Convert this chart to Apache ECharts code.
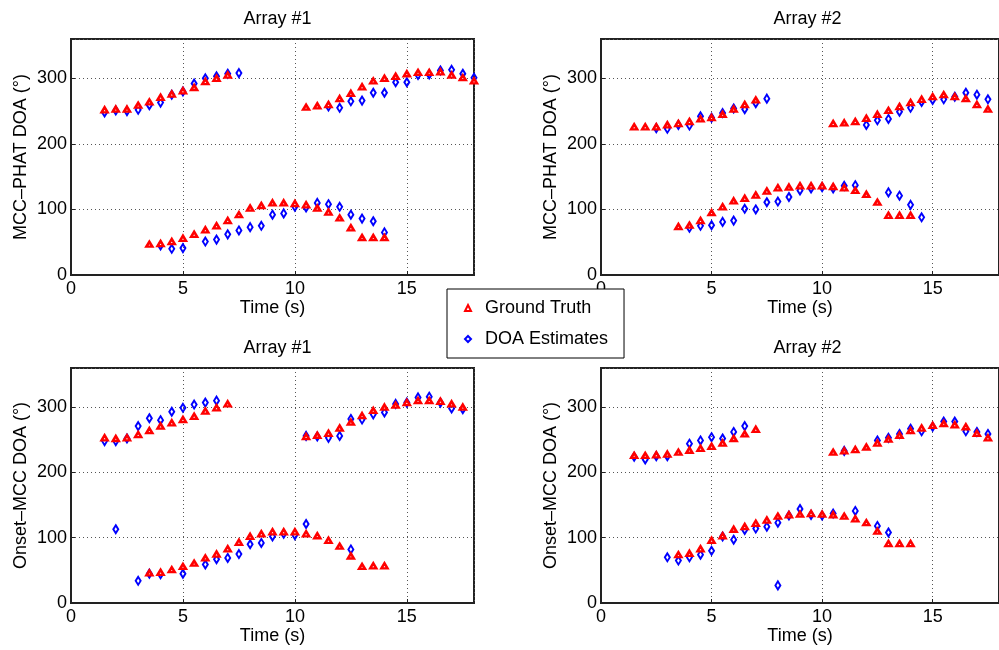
<!DOCTYPE html>
<html>
<head>
<meta charset="utf-8">
<script src="https://cdn.jsdelivr.net/npm/echarts@6/dist/echarts.min.js"></script>
<style>
  html, body { margin: 0; padding: 0; background: #fff; }
  #chart { width: 999px; height: 650px; }
</style>
</head>
<body>
<div id="chart"></div>
<script>
// DOA tracks over time, pairs of [time (s), DOA (deg)]

// MCC-PHAT, Array #1
const phatA1Truth = [
  [1.5,252],[2,253],[2.5,253],[3,259],[3.5,264],[4,271],[4.5,276],[5,281],[5.5,286],[6,295],[6.5,300],[7,305],
  [3.5,47],[4,48],[4.5,51],[5,56],[5.5,62],[6,69],[6.5,75],[7,83],[7.5,92],[8,102],[8.5,106],[9,110],[9.5,110],
  [10,109],[10.5,107],[11,102],[11.5,96],[12,87],[12.5,72],[13,57],[13.5,57],[14,57],
  [10.5,256],[11,258],[11.5,260],[12,269],[12.5,277],[13,287],[13.5,296],[14,300],[14.5,303],[15,307],
  [15.5,309],[16,309],[16.5,310],[17,305],[17.5,301],[18,296]
];
const phatA1Est = [
  [1.5,248],[2,251],[2.5,250],[3,252],[3.5,259],[4,263],[4.5,275],[5,280],[5.5,292],[6,300],[6.5,303],[7,307],[7.5,308],
  [4,45],[4.5,40],[5,41],[6,51],[6.5,54],[7,62],[7.5,68],[8,73],[8.5,75],[9,92],[9.5,94],[10,104],[10.5,103],
  [11,110],[11.5,108],[12,104],[12.5,92],[13,86],[13.5,82],[14,65],
  [11.5,257],[12,255],[12.5,265],[13,266],[13.5,278],[14,278],[14.5,294],[15,294],[15.5,305],[16,306],
  [16.5,312],[17,313],[17.5,307],[18,301]
];

// MCC-PHAT, Array #2
const phatA2Truth = [
  [1.5,226],[2,226],[2.5,226],[3,229],[3.5,231],[4,234],[4.5,238],[5,240],[5.5,245],[6,253],[6.5,260],[7,267],
  [3.5,74],[4,76],[4.5,83],[5,95],[5.5,104],[6,113],[6.5,117],[7,122],[7.5,128],[8,133],[8.5,134],[9,136],[9.5,136],
  [10,136],[10.5,135],[11,133],[11.5,129],[12,123],[12.5,111],[13,91],[13.5,91],[14,91],
  [10.5,231],[11,232],[11.5,234],[12,239],[12.5,245],[13,251],[13.5,257],[14,263],[14.5,268],[15,272],
  [15.5,275],[16,272],[16.5,269],[17,260],[17.5,253]
];
const phatA2Est = [
  [2.5,224],[3,223],[3.5,229],[4,228],[4.5,242],[5,240],[5.5,247],[6,254],[6.5,253],[7,262],[7.5,269],
  [4,72],[4.5,75],[5,76],[5.5,81],[6,83],[6.5,101],[7,100],[7.5,111],[8,112],[8.5,119],[9,129],[9.5,132],
  [10,134],[10.5,132],[11,136],[11.5,137],[13,126],[13.5,121],[14,107],[14.5,88],
  [12,229],[12.5,236],[13,238],[13.5,249],[14,255],[14.5,264],[15,267],[15.5,268],[16,272],[16.5,278],
  [17,275],[17.5,268]
];

// Onset-MCC, Array #1
const onsetA1Truth = [
  [1.5,253],[2,252],[2.5,253],[3,258],[3.5,264],[4,271],[4.5,276],[5,281],[5.5,286],[6,294],[6.5,299],[7,305],
  [3.5,46],[4,47],[4.5,51],[5,56],[5.5,61],[6,69],[6.5,75],[7,83],[7.5,93],[8,102],[8.5,106],[9,109],[9.5,109],
  [10,109],[10.5,106],[11,103],[11.5,96],[12,87],[12.5,72],[13,56],[13.5,57],[14,57],
  [10.5,255],[11,257],[11.5,260],[12,268],[12.5,277],[13,287],[13.5,295],[14,300],[14.5,303],[15,307],
  [15.5,310],[16,310],[16.5,309],[17,305],[17.5,300]
];
const onsetA1Est = [
  [1.5,248],[2,248],[2.5,252],[3,271],[3.5,283],[4,280],[4.5,293],[5,299],[5.5,304],[6,307],[6.5,310],
  [2,113],
  [3,34],[3.5,45],[4,44],[5,45],[6,59],[6.5,67],[7,69],[7.5,75],[8,90],[8.5,92],[9,102],[9.5,106],[10,104],
  [10.5,121],[12.5,82],
  [10.5,256],[11,255],[11.5,253],[12,256],[12.5,282],[13,281],[13.5,289],[14,292],[14.5,305],[15,307],
  [15.5,315],[16,316],[16.5,307],[17,298],[17.5,297]
];

// Onset-MCC, Array #2
const onsetA2Truth = [
  [1.5,226],[2,226],[2.5,227],[3,228],[3.5,231],[4,234],[4.5,237],[5,240],[5.5,245],[6,252],[6.5,259],[7,266],
  [3.5,74],[4,76],[4.5,83],[5,96],[5.5,103],[6,113],[6.5,117],[7,122],[7.5,127],[8,133],[8.5,135],[9,136],[9.5,137],
  [10,136],[10.5,135],[11,133],[11.5,129],[12,123],[12.5,110],[13,91],[13.5,91],[14,91],
  [10.5,231],[11,233],[11.5,235],[12,239],[12.5,245],[13,251],[13.5,257],[14,264],[14.5,268],[15,272],
  [15.5,275],[16,273],[16.5,270],[17,260],[17.5,253]
];
const onsetA2Est = [
  [1.5,224],[2,220],[2.5,225],[3,225],[4,244],[4.5,249],[5,254],[5.5,252],[6,262],[6.5,271],
  [3,70],[3.5,65],[4,70],[4.5,74],[5,80],[5.5,102],[6,97],[6.5,112],[7,114],[7.5,117],[8,123],[8.5,134],
  [9,144],[9.5,135],[10,134],[10.5,137],[11.5,141],[12.5,118],[13,108],
  [8,27],
  [11,233],[12.5,249],[13,253],[13.5,259],[14,267],[14.5,263],[15,270],[15.5,278],[16,278],[16.5,263],
  [17,262],[17.5,259]
];

const panelTitles = ['Array #1', 'Array #2', 'Array #1', 'Array #2'];
const yAxisNames = ['MCC\u2013PHAT DOA (\u00b0)', 'MCC\u2013PHAT DOA (\u00b0)', 'Onset\u2013MCC DOA (\u00b0)', 'Onset\u2013MCC DOA (\u00b0)'];
const xAxisName = 'Time (s)';
const truthName = 'Ground Truth';
const estName = 'DOA Estimates';
const panelData = [
  [phatA1Truth, phatA1Est],
  [phatA2Truth, phatA2Est],
  [onsetA1Truth, onsetA1Est],
  [onsetA2Truth, onsetA2Est]
];

const FONT = 'Liberation Sans, Arial, Helvetica, sans-serif';
const grids = [
  { left: 71, top: 39, width: 403, height: 236 },
  { left: 601, top: 39, width: 403, height: 236 },
  { left: 71, top: 368, width: 403, height: 235 },
  { left: 601, top: 368, width: 403, height: 235 }
];

const chart = echarts.init(document.getElementById('chart'), null, { renderer: 'canvas' });

const gridOpts = grids.map(g => Object.assign({
  show: true, borderColor: '#222', borderWidth: 2, backgroundColor: '#fff', containLabel: false
}, g));

const dotted = { show: true, lineStyle: { color: '#555', type: [1, 3], width: 1 } };

const xAxes = grids.map((g, i) => ({
  type: 'value', gridIndex: i, min: 0, max: 18, interval: 5,
  name: xAxisName, nameLocation: 'middle', nameGap: 22,
  nameTextStyle: { fontFamily: FONT, fontSize: 18, color: '#000' },
  axisLine: { show: true, lineStyle: { color: '#222', width: 2 } },
  axisTick: { show: true, inside: true, length: 4, lineStyle: { color: '#222' } },
  axisLabel: { fontFamily: FONT, fontSize: 18, color: '#000', margin: 5, showMaxLabel: false },
  splitLine: dotted
}));

const yAxes = grids.map((g, i) => ({
  type: 'value', gridIndex: i, min: 0, max: 360, interval: 100,
  name: yAxisNames[i], nameLocation: 'middle', nameGap: 41, nameRotate: 90,
  nameTextStyle: { fontFamily: FONT, fontSize: 18, color: '#000' },
  axisLine: { show: true, lineStyle: { color: '#222', width: 2 } },
  axisTick: { show: true, inside: true, length: 4, lineStyle: { color: '#222' } },
  axisLabel: { fontFamily: FONT, fontSize: 18, color: '#000', margin: 4, showMaxLabel: false },
  splitLine: dotted
}));

const titles = grids.map((g, i) => ({
  text: panelTitles[i],
  left: g.left + g.width / 2, top: g.top - 34, textAlign: 'center',
  textStyle: { fontFamily: FONT, fontSize: 18, fontWeight: 'normal', color: '#000' }
}));

const series = [];
panelData.forEach((pair, i) => {
  series.push({
    name: estName, type: 'scatter', xAxisIndex: i, yAxisIndex: i, clip: false,
    symbol: 'diamond', symbolSize: [5, 8],
    itemStyle: { color: 'rgba(255,255,255,0)', borderColor: '#0000ff', borderWidth: 2, opacity: 1 },
    data: pair[1], z: 3
  });
  series.push({
    name: truthName, type: 'scatter', xAxisIndex: i, yAxisIndex: i, clip: false,
    symbol: 'triangle', symbolSize: [6, 5],
    itemStyle: { color: '#ffffff', borderColor: '#ff0000', borderWidth: 2.5, opacity: 1 },
    data: pair[0], z: 4
  });
});

chart.setOption({
  backgroundColor: '#fff',
  animation: false,
  title: titles,
  grid: gridOpts,
  xAxis: xAxes,
  yAxis: yAxes,
  legend: {
    left: 447, top: 289, orient: 'vertical',
    data: [truthName, estName],
    backgroundColor: '#fff', borderColor: '#000', borderWidth: 1,
    padding: [9, 16, 9, 17], itemGap: 11,
    itemWidth: 6, itemHeight: 6,
    textStyle: { fontFamily: FONT, fontSize: 18, color: '#000', lineHeight: 20, padding: [0, 0, 0, 9] },
    selectedMode: false, z: 10
  },
  series: series
});
</script>
</body>
</html>
